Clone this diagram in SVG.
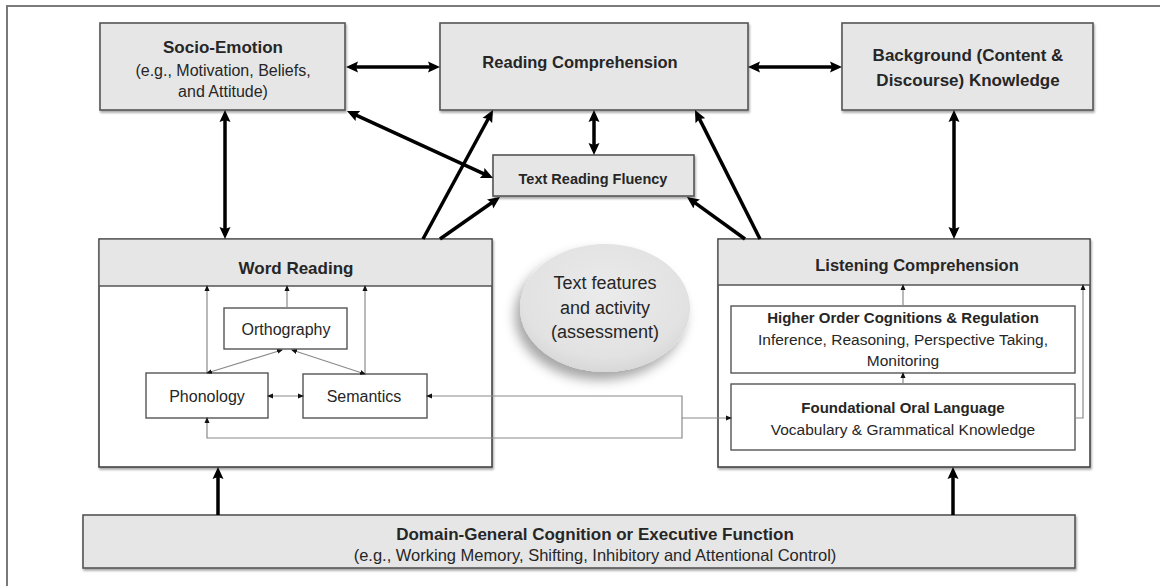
<svg xmlns="http://www.w3.org/2000/svg" width="1160" height="586" viewBox="0 0 1160 586">
  <style>
    text { font-family: "Liberation Sans", Arial, sans-serif; fill: #262626; text-anchor: middle; }
    .b { font-weight: bold; }
    .box { fill: #e6e6e6; stroke: #555; stroke-width: 1.6; }
    .panel { fill: #fff; stroke: #444; stroke-width: 1.6; }
    .inner { fill: #fff; stroke: #555; stroke-width: 1.4; }
    .thick { fill: none; stroke: #000; stroke-width: 3.5; }
    .thin { fill: none; stroke: #8a8a8a; stroke-width: 1.2; }
  </style>
  <defs>
    <filter id="shadow" x="-5%" y="-10%" width="110%" height="125%">
      <feDropShadow dx="1" dy="2" stdDeviation="1.2" flood-color="#000" flood-opacity="0.35"/>
    </filter>
    <filter id="softShadow" x="-30%" y="-30%" width="160%" height="160%">
      <feDropShadow dx="-5" dy="8" stdDeviation="6" flood-color="#000" flood-opacity="0.35"/>
    </filter>
    <radialGradient id="disc" cx="0.5" cy="0.4" r="0.6">
      <stop offset="0" stop-color="#ebebeb"/>
      <stop offset="0.8" stop-color="#e2e2e2"/>
      <stop offset="1" stop-color="#d8d8d8"/>
    </radialGradient>
    <marker id="big" markerUnits="userSpaceOnUse" viewBox="0 0 12 12" markerWidth="12" markerHeight="12" refX="8" refY="6" orient="auto-start-reverse">
      <path d="M0,0.5 L12,6 L0,11.5 L2,6 z" fill="#000"/>
    </marker>
    <marker id="small" markerUnits="userSpaceOnUse" viewBox="0 0 6 6" markerWidth="6" markerHeight="6" refX="5" refY="3" orient="auto-start-reverse">
      <path d="M0,0.5 L6,3 L0,5.5 z" fill="#111"/>
    </marker>
  </defs>

  <rect width="1160" height="586" fill="#fff"/>
  <!-- outer frame -->
  <path d="M7,586 V6 H1160" fill="none" stroke="#7a7a7a" stroke-width="2"/>

  <g id="socio-emotion">
    <rect class="box" x="100" y="23" width="245" height="87" filter="url(#shadow)"/>
    <text class="b" x="223" y="53" font-size="17">Socio-Emotion</text>
    <text x="223" y="76" font-size="16">(e.g., Motivation, Beliefs,</text>
    <text x="223" y="97" font-size="16">and Attitude)</text>
  </g>

  <g id="reading-comprehension">
    <rect class="box" x="440" y="23" width="308" height="87" filter="url(#shadow)"/>
    <text class="b" x="580" y="68" font-size="16.5">Reading Comprehension</text>
  </g>

  <g id="background-knowledge">
    <rect class="box" x="842" y="23" width="251" height="87" filter="url(#shadow)"/>
    <text class="b" x="968" y="61" font-size="17">Background (Content &amp;</text>
    <text class="b" x="968" y="86" font-size="17">Discourse) Knowledge</text>
  </g>

  <g id="text-reading-fluency">
    <rect class="box" x="493" y="155" width="201" height="41" filter="url(#shadow)"/>
    <text class="b" x="593" y="184" font-size="14.5">Text Reading Fluency</text>
  </g>

  <g id="word-reading">
    <rect class="panel" x="99" y="239" width="393" height="228" filter="url(#shadow)"/>
    <rect x="99.8" y="239.8" width="391.4" height="46.2" fill="#e6e6e6"/>
    <line x1="99" y1="286" x2="492" y2="286" stroke="#555" stroke-width="1.4"/>
    <text class="b" x="296" y="274" font-size="17">Word Reading</text>
    <g id="orthography">
      <rect class="inner" x="224" y="308" width="123" height="41"/>
      <text x="286" y="335" font-size="16">Orthography</text>
    </g>
    <g id="phonology">
      <rect class="inner" x="146" y="373" width="122" height="45"/>
      <text x="207" y="402" font-size="16">Phonology</text>
    </g>
    <g id="semantics">
      <rect class="inner" x="303" y="374" width="124" height="44"/>
      <text x="364" y="402" font-size="16">Semantics</text>
    </g>
  </g>

  <g id="text-features">
    <ellipse cx="605" cy="308" rx="85" ry="64" fill="url(#disc)" filter="url(#softShadow)"/>
    <text x="605" y="289" font-size="18">Text features</text>
    <text x="605" y="314" font-size="18">and activity</text>
    <text x="605" y="338" font-size="18">(assessment)</text>
  </g>

  <g id="listening-comprehension">
    <rect class="panel" x="718" y="239" width="372" height="228" filter="url(#shadow)"/>
    <rect x="718.8" y="239.8" width="370.4" height="45.2" fill="#e6e6e6"/>
    <line x1="718" y1="285" x2="1090" y2="285" stroke="#555" stroke-width="1.4"/>
    <text class="b" x="917" y="271" font-size="16.5">Listening Comprehension</text>
    <g id="higher-order">
      <rect class="inner" x="731" y="306" width="344" height="67"/>
      <text class="b" x="903" y="323" font-size="15">Higher Order Cognitions &amp; Regulation</text>
      <text x="903" y="345" font-size="15.5">Inference, Reasoning, Perspective Taking,</text>
      <text x="903" y="366" font-size="15.5">Monitoring</text>
    </g>
    <g id="foundational-oral-language">
      <rect class="inner" x="731" y="384" width="344" height="66"/>
      <text class="b" x="903" y="413" font-size="15">Foundational Oral Language</text>
      <text x="903" y="435" font-size="15.5">Vocabulary &amp; Grammatical Knowledge</text>
    </g>
  </g>

  <g id="domain-general">
    <rect class="box" x="83" y="515" width="992" height="53" filter="url(#shadow)"/>
    <text class="b" x="595" y="540" font-size="17">Domain-General Cognition or Executive Function</text>
    <text x="595" y="561" font-size="16.5">(e.g., Working Memory, Shifting, Inhibitory and Attentional Control)</text>
  </g>

  <g id="connectors">
    <!-- thick links between constructs -->
    <path class="thick" d="M350,67 H436" marker-start="url(#big)" marker-end="url(#big)"/>
    <path class="thick" d="M752,67 H838" marker-start="url(#big)" marker-end="url(#big)"/>
    <path class="thick" d="M225,114 V235" marker-start="url(#big)" marker-end="url(#big)"/>
    <path class="thick" d="M954,114 V235" marker-start="url(#big)" marker-end="url(#big)"/>
    <path class="thick" d="M594,114 V151" marker-start="url(#big)" marker-end="url(#big)"/>
    <path class="thick" d="M350.6,112.7 L489.4,176.3" marker-start="url(#big)" marker-end="url(#big)"/>
    <path class="thick" d="M423,239 L491.1,113.5" marker-end="url(#big)"/>
    <path class="thick" d="M440,239 L496.7,199.3" marker-end="url(#big)"/>
    <path class="thick" d="M745,239 L690.2,199.3" marker-end="url(#big)"/>
    <path class="thick" d="M760,239 L696.8,113.6" marker-end="url(#big)"/>
    <path class="thick" d="M218,515 V471" marker-end="url(#big)"/>
    <path class="thick" d="M953,515 V471" marker-end="url(#big)"/>

    <!-- word reading components -->
    <path class="thin" d="M207,373 V286" marker-end="url(#small)"/>
    <path class="thin" d="M287,308 V286" marker-end="url(#small)"/>
    <path class="thin" d="M365,374 V286" marker-end="url(#small)"/>
    <path class="thin" d="M207,373 L282,350" marker-start="url(#small)" marker-end="url(#small)"/>
    <path class="thin" d="M365,374 L292,350" marker-start="url(#small)" marker-end="url(#small)"/>
    <path class="thin" d="M268,396 H303" marker-start="url(#small)" marker-end="url(#small)"/>

    <!-- oral language to phonology and semantics -->
    <path class="thin" d="M427,396 H682 V438 H207 V418" marker-start="url(#small)" marker-end="url(#small)"/>
    <path class="thin" d="M682,418 H731" marker-end="url(#small)"/>

    <!-- listening comprehension components -->
    <path class="thin" d="M903,306 V285" marker-end="url(#small)"/>
    <path class="thin" d="M903,384 V373" marker-end="url(#small)"/>
    <path class="thin" d="M1075,418 H1083 V285" marker-end="url(#small)"/>
  </g>
</svg>
